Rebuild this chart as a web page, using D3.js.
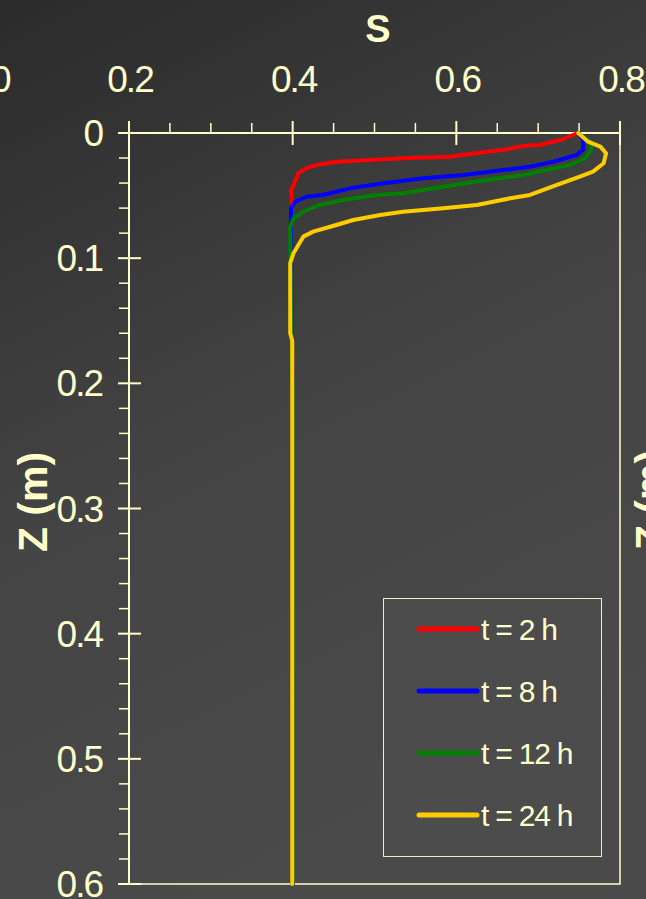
<!DOCTYPE html>
<html>
<head>
<meta charset="utf-8">
<script src="https://cdn.jsdelivr.net/npm/d3@7"></script>
<style>
  html, body { margin: 0; padding: 0; background: #3a3a3a; overflow: hidden; }
  svg { display: block; }
  text { font-family: "Liberation Sans", Arial, sans-serif; fill: #ffffcc; }
</style>
</head>
<body>
<svg id="chart" width="646" height="899"></svg>
<script>
// Saturation profiles S(z) at different times
const seriesNames = ["t = 2 h", "t = 8 h", "t = 12 h", "t = 24 h"];
const seriesColors = ["#ff0000", "#0000ff", "#008000", "#ffcc00"];

const s2h = [
  [0.749, 0], [0.727, 0.0056], [0.702, 0.0096], [0.686, 0.0100], [0.657, 0.0136],
  [0.625, 0.016], [0.592, 0.019], [0.543, 0.020], [0.494, 0.0216], [0.454, 0.0229],
  [0.429, 0.0256], [0.417, 0.028], [0.407, 0.032], [0.403, 0.039], [0.398, 0.0455],
  [0.399, 0.0535], [0.3985, 0.10], [0.3985, 0.16], [0.400, 0.20], [0.400, 0.60]
];
const s8h = [
  [0.749, 0], [0.755, 0.0053], [0.755, 0.0133], [0.747, 0.0176], [0.719, 0.0229],
  [0.690, 0.0269], [0.657, 0.0296], [0.609, 0.0336], [0.560, 0.0362], [0.511, 0.0402],
  [0.470, 0.0442], [0.437, 0.0495], [0.417, 0.0509], [0.403, 0.0549], [0.398, 0.060],
  [0.3985, 0.10], [0.3985, 0.16], [0.400, 0.20], [0.400, 0.60]
];
const s12h = [
  [0.749, 0], [0.763, 0.0069], [0.765, 0.0136], [0.757, 0.0202], [0.739, 0.0256],
  [0.710, 0.0296], [0.682, 0.0336], [0.637, 0.0375], [0.584, 0.0429], [0.535, 0.0482],
  [0.503, 0.0495], [0.462, 0.0535], [0.433, 0.0575], [0.413, 0.0629], [0.401, 0.0682],
  [0.397, 0.0749], [0.3975, 0.12], [0.398, 0.163], [0.400, 0.20], [0.400, 0.60]
];
const s24h = [
  [0.749, 0], [0.761, 0.0069], [0.776, 0.0109], [0.783, 0.0162], [0.780, 0.0242],
  [0.767, 0.0309], [0.751, 0.0349], [0.723, 0.0415], [0.690, 0.0495], [0.666, 0.0522],
  [0.625, 0.0575], [0.584, 0.0602], [0.535, 0.0629], [0.507, 0.0655], [0.474, 0.0695],
  [0.446, 0.0749], [0.425, 0.0788], [0.413, 0.0828], [0.407, 0.0895], [0.401, 0.0961],
  [0.397, 0.104], [0.397, 0.160], [0.3995, 0.166], [0.3995, 0.60]
];
const seriesData = [s2h, s8h, s12h, s24h];

const xTickValues = [0.2, 0.4, 0.6, 0.8];
const yTickValues = [0, 0.1, 0.2, 0.3, 0.4, 0.5, 0.6];

const W = 646, H = 899;
const plot = { left: 129, right: 620, top: 133, bottom: 884 };
const ink = "#ffffcc";

const svg = d3.select("#chart");

// Dark slide-style background
const defs = svg.append("defs");
const grad = defs.append("linearGradient")
  .attr("id", "bg").attr("x1", "0").attr("y1", "0").attr("x2", "0.35").attr("y2", "1");
grad.append("stop").attr("offset", "0").attr("stop-color", "#2b2b2b");
grad.append("stop").attr("offset", "0.55").attr("stop-color", "#444444");
grad.append("stop").attr("offset", "1").attr("stop-color", "#4a4a4a");
svg.append("rect").attr("width", W).attr("height", H).attr("fill", "url(#bg)");

const x = d3.scaleLinear().domain([0.2, 0.8]).range([plot.left, plot.right]);
const y = d3.scaleLinear().domain([0, 0.6]).range([plot.top, plot.bottom]);

// Frame: right and bottom borders
svg.append("path")
  .attr("d", `M${plot.right},${plot.top}V${plot.bottom}H${plot.left}`)
  .attr("fill", "none").attr("stroke", ink).attr("stroke-width", 1.5);

// Top S axis: minor ticks outward, major ticks crossing
const xMinor = d3.range(0.2, 0.8001, 0.05).filter(v => Math.abs(v * 5 - Math.round(v * 5)) > 1e-6);
const xAxisG = svg.append("g").attr("transform", `translate(0,${plot.top})`);
xAxisG.append("line").attr("x1", plot.left).attr("x2", plot.right)
  .attr("stroke", ink).attr("stroke-width", 2);
xAxisG.selectAll(".xminor").data(xMinor).join("line")
  .attr("x1", d => x(d)).attr("x2", d => x(d)).attr("y1", -10).attr("y2", 0)
  .attr("stroke", ink).attr("stroke-width", 1.5);
xAxisG.selectAll(".xmajor").data(xTickValues).join("line")
  .attr("x1", d => x(d)).attr("x2", d => x(d)).attr("y1", -12).attr("y2", 12)
  .attr("stroke", ink).attr("stroke-width", 2);
xAxisG.selectAll(".xlab").data(xTickValues).join("text")
  .attr("x", d => x(d) + 1).attr("y", -41)
  .attr("text-anchor", "middle")
  .style("font-size", "37px").style("letter-spacing", "-2px")
  .text(d => d3.format(".1f")(d));

// Neighbouring panel's tick label peeking in at the left edge
svg.append("text").attr("x", -9).attr("y", 92)
  .style("font-size", "37px").text("0");

// Left Z axis
const yMinor = d3.range(0, 0.6001, 0.02).filter(v => Math.abs(v * 10 - Math.round(v * 10)) > 1e-6);
const yAxisG = svg.append("g").attr("transform", `translate(${plot.left},0)`);
yAxisG.append("line").attr("y1", plot.top).attr("y2", plot.bottom)
  .attr("stroke", ink).attr("stroke-width", 2);
yAxisG.selectAll(".yminor").data(yMinor).join("line")
  .attr("y1", d => y(d)).attr("y2", d => y(d)).attr("x1", -10).attr("x2", 0)
  .attr("stroke", ink).attr("stroke-width", 1.5);
yAxisG.selectAll(".ymajor").data(yTickValues).join("line")
  .attr("y1", d => y(d)).attr("y2", d => y(d)).attr("x1", -11).attr("x2", 12)
  .attr("stroke", ink).attr("stroke-width", 2);
yAxisG.selectAll(".ylab").data(yTickValues).join("text")
  .attr("x", -27).attr("y", d => y(d) + 13)
  .attr("text-anchor", "end")
  .style("font-size", "37px").style("letter-spacing", "-2px")
  .text(d => d === 0 ? "0" : d3.format(".1f")(d));

// Axis titles
svg.append("text").attr("x", 378).attr("y", 42)
  .attr("text-anchor", "middle")
  .style("font-size", "38px").style("font-weight", "bold")
  .text("S");
svg.append("text")
  .attr("transform", "translate(47,502) rotate(-90)")
  .attr("text-anchor", "middle")
  .style("font-size", "41px").style("font-weight", "bold")
  .text("Z (m)");
// Next panel's axis title, clipped at the right edge
svg.append("text")
  .attr("transform", "translate(664,500) rotate(-90)")
  .attr("text-anchor", "middle")
  .style("font-size", "41px").style("font-weight", "bold")
  .text("Z (m)");

// Profiles
const line = d3.line()
  .x(d => x(d[0])).y(d => y(d[1]))
  .curve(d3.curveLinear);
svg.append("g").selectAll("path").data(seriesData).join("path")
  .attr("d", d => line(d))
  .attr("fill", "none")
  .attr("stroke", (d, i) => seriesColors[i])
  .attr("stroke-width", 4)
  .attr("stroke-linejoin", "round")
  .attr("stroke-linecap", "round");

// Legend
const lg = svg.append("g").attr("transform", "translate(383,598)");
lg.append("rect").attr("x", 0.5).attr("y", 0.5).attr("width", 218).attr("height", 258)
  .attr("fill", "#4c4c4c").attr("stroke", "#f2eec0").attr("stroke-width", 1);
const rows = lg.selectAll(".row").data(seriesNames).join("g")
  .attr("transform", (d, i) => `translate(0,${31 + i * 62})`);
rows.append("line").attr("x1", 36).attr("x2", 94).attr("y1", 0).attr("y2", 0)
  .attr("stroke", (d, i) => seriesColors[i]).attr("stroke-width", 5)
  .attr("stroke-linecap", "round");
rows.append("text").attr("x", 98).attr("y", 11)
  .style("font-size", "30px").style("letter-spacing", "-1.2px")
  .text(d => d);
</script>
</body>
</html>
